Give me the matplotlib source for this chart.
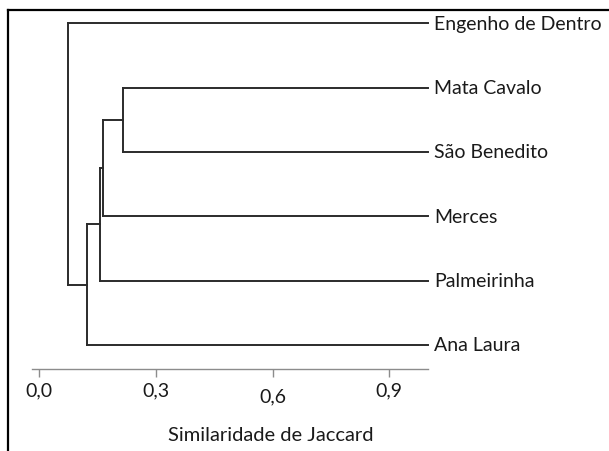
import matplotlib.pyplot as plt
import matplotlib.transforms as mtransforms
from matplotlib.lines import Line2D

# leaves, top to bottom
leaves = ["Engenho de Dentro", "Mata Cavalo", "São Benedito",
          "Merces", "Palmeirinha", "Ana Laura"]

# merges in order: children (leaf index or cluster id "cN") and Jaccard similarity
merge_a = [1, "c0", "c1", "c2", 0]
merge_b = [2, 3, 4, 5, "c3"]
merge_sim = [0.216, 0.163, 0.157, 0.123, 0.074]
leaf_sim = 1.0

tick_vals = [0.0, 0.3, 0.6, 0.9]
tick_labels = ["0,0", "0,3", "0,6", "0,9"]

line_col = '#2b2b2b'
text_col = '#1a1a1a'
plt.rcParams['font.family'] = ['Lato', 'DejaVu Sans']

fig = plt.figure(figsize=(6.09, 4.52), dpi=100)
W, H = 609, 452
ax = fig.add_axes([31.5 / W, (H - 370) / H, 396.7 / W, 365 / H])

# node positions: (x = similarity, y = row)
pos = {}
for i, name in enumerate(leaves):
    pos[i] = (leaf_sim, i)

for k, (a, b, s) in enumerate(zip(merge_a, merge_b, merge_sim)):
    xa, ya = pos[a]
    xb, yb = pos[b]
    ax.plot([xa, s], [ya, ya], color=line_col, lw=1.4, clip_on=False,
            solid_capstyle='projecting')
    ax.plot([xb, s], [yb, yb], color=line_col, lw=1.4, clip_on=False,
            solid_capstyle='projecting')
    ax.plot([s, s], [ya, yb], color=line_col, lw=1.4, clip_on=False,
            solid_capstyle='projecting')
    pos["c%d" % k] = (s, (ya + yb) / 2)

for i, name in enumerate(leaves):
    ax.annotate(name, (leaf_sim, i), xytext=(4.5, 0), textcoords='offset points',
                ha='left', va='center', fontsize=14, color=text_col,
                annotation_clip=False)

ax.set_xlim(-0.02, 1.0)
ax.set_ylim(5.376, -0.30)
ax.set_yticks([])
for side in ['top', 'right', 'left']:
    ax.spines[side].set_visible(False)
ax.spines['bottom'].set_color('#8c8c8c')
ax.spines['bottom'].set_linewidth(1.0)
ax.set_xticks(tick_vals)
ax.set_xticklabels([])
ax.tick_params(axis='x', direction='out', length=6, width=1.0, color='#8c8c8c')

# tick labels (0,6 sits a little lower in the original)
trans = mtransforms.blended_transform_factory(ax.transData, fig.transFigure)
for v, lab in zip(tick_vals, tick_labels):
    dy = 6 if lab == "0,6" else 0
    fig.text(v, 1 - (391 + dy) / H, lab, transform=trans, ha='center',
             va='center', fontsize=14, color=text_col)

fig.text(271 / W, 1 - 436 / H, 'Similaridade de Jaccard', ha='center',
         va='center', fontsize=14.5, color=text_col)

# outer frame (only top and left visible in the crop)
fx, fy = 8 / W, 1 - 11 / H
fig.add_artist(Line2D([fx, fx], [-0.1, fy], transform=fig.transFigure,
                      color='black', lw=1.6))
fig.add_artist(Line2D([fx, 1.1], [fy, fy], transform=fig.transFigure,
                      color='black', lw=1.6))

fig.savefig('out.png', dpi=100)
